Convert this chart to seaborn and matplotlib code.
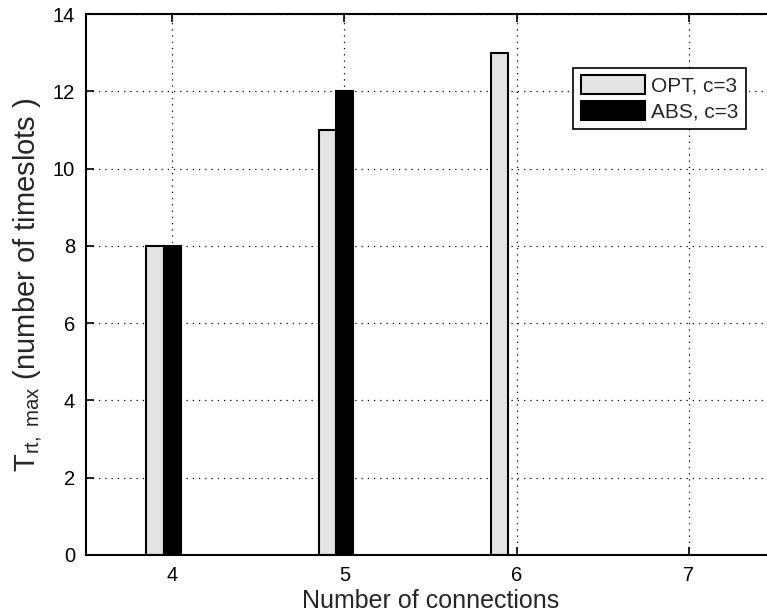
import numpy as np
import pandas as pd
import seaborn as sns
import matplotlib.pyplot as plt

# Number of connections on the x axis
connections = [4, 5, 6, 7]
# T_rt,max (number of timeslots) per scheme
opt_c3 = [8, 11, 13, np.nan]
abs_c3 = [8, 12, np.nan, np.nan]
series_names = ["OPT, c=3", "ABS, c=3"]
y_ticks = [0, 2, 4, 6, 8, 10, 12, 14]

df = pd.DataFrame({
    "connections": connections * 2,
    "value": opt_c3 + abs_c3,
    "series": [series_names[0]] * len(connections) + [series_names[1]] * len(connections),
})

sns.set_style("ticks")
plt.rcParams["font.family"] = ["Liberation Sans", "DejaVu Sans"]
plt.rcParams["mathtext.fontset"] = "custom"
plt.rcParams["mathtext.rm"] = "Liberation Sans"
plt.rcParams["mathtext.it"] = "Liberation Sans"

fig = plt.figure(figsize=(7.67, 6.15), dpi=100)
ax = fig.add_axes([86 / 767, 60 / 615, 689 / 767, 541 / 615])

sns.barplot(
    data=df, x="connections", y="value", hue="series",
    order=connections, hue_order=series_names,
    palette=["#e4e4e4", "black"], saturation=1,
    width=0.2, edgecolor="black", linewidth=1.5,
    errorbar=None, ax=ax,
)

# category ticks sit slightly right of each bar group
ax.set_xticks([i + 0.05 for i in range(len(connections))])
ax.set_xticklabels([str(c) for c in connections])
ax.set_xlim(-0.45, len(connections) - 0.45)
ax.set_ylim(0, 14)
ax.set_yticks(y_ticks)

ax.set_axisbelow(True)
ax.grid(True, linestyle=(0, (1, 4)), color="black", linewidth=0.9)
ax.tick_params(direction="in", length=6, width=1.2, top=True, right=True,
               labelsize=14.5, colors="black", pad=8)
for s in ax.spines.values():
    s.set_visible(True)
    s.set_linewidth(1.5)
    s.set_color("black")

ax.set_xlabel("Number of connections", fontsize=18, labelpad=3)
ax.set_ylabel(r"T$_{\mathrm{rt,\ max}}$ (number of timeslots )", fontsize=21, labelpad=6)

handles, labels = ax.get_legend_handles_labels()
ax.legend(handles, labels, loc="upper right", bbox_to_anchor=(0.958, 0.900),
          fontsize=15, handlelength=3.1, handleheight=1.0, handletextpad=0.3,
          borderpad=0.35, borderaxespad=0, labelspacing=0.25, fancybox=False,
          framealpha=1, edgecolor="black")
ax.get_legend().get_frame().set_linewidth(1.2)

fig.savefig("out.png", dpi=100)
